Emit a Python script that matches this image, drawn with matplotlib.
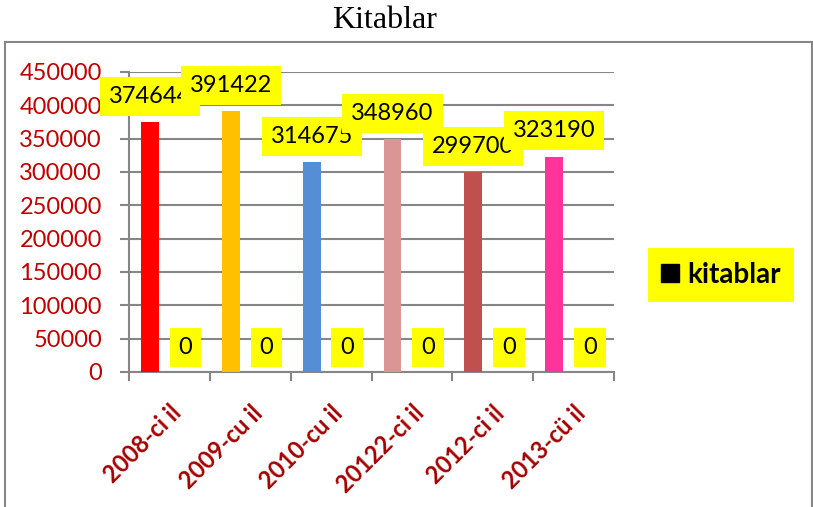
import matplotlib
matplotlib.use("Agg")
import matplotlib.pyplot as plt
from matplotlib.lines import Line2D
from matplotlib.patches import Rectangle
import numpy as np

# data
categories = ["2008-ci il", "2009-cu il", "2010-cu il", "20122-ci il", "2012-ci il", "2013-cü il"]
kitablar = [374644, 391422, 314675, 348960, 299700, 323190]
second = [0, 0, 0, 0, 0, 0]
bar_colors = ["#FF0000", "#FFC000", "#558ED5", "#D99694", "#C0504D", "#FF3399"]
yticks = np.arange(0, 450001, 50000)

plt.rcParams['font.family'] = ['Lato', 'DejaVu Sans']

fig = plt.figure(figsize=(8.13, 5.07), dpi=100)
ax = fig.add_axes([0.1587, 0.2663, 0.7552 - 0.1587, 0.858 - 0.2663])

x = np.arange(len(categories))
w = 0.22
ax.bar(x - 0.24, kitablar, width=w, color=bar_colors, zorder=3)
ax.bar(x + 0.2, second, width=w, color="#4F81BD", zorder=3)

# value labels (later ones drawn on top of earlier)
for i, v in enumerate(kitablar):
    ax.annotate(str(v), (x[i] - 0.24, v), xytext=(0, 11), textcoords="offset points",
                ha="center", va="bottom", fontsize=17, color="black", zorder=10 + i,
                bbox=dict(boxstyle="square,pad=0.38", fc="#FFFF00", ec="none"))
for i, v in enumerate(second):
    ax.annotate(str(v), (x[i] + 0.2, v), xytext=(0, 10), textcoords="offset points",
                ha="center", va="bottom", fontsize=17, color="black", zorder=20 + i,
                bbox=dict(boxstyle="square,pad=0.38", fc="#FFFF00", ec="none"))

ax.set_xlim(-0.5, len(categories) - 0.5)
ax.set_ylim(0, 450000)
ax.set_yticks(yticks)
ax.set_yticklabels([str(t) for t in yticks], color="#C00000", fontsize=17)
ax.yaxis.grid(True, color="#868686", linewidth=1.5, zorder=0)
ax.set_axisbelow(True)

# x ticks at group boundaries, labels at centres
ax.set_xticks(np.arange(-0.5, len(categories), 1.0))
ax.set_xticklabels([])
ax.set_xticks(x, minor=True)
ax.set_xticklabels(categories, minor=True, rotation=45, ha="right", va="top",
                   rotation_mode="anchor", color="#A50000", fontsize=17, fontweight="bold")
ax.tick_params(axis="x", which="minor", length=0, pad=21)
ax.tick_params(axis="x", which="major", length=6.5, color="#868686", width=1.5)
ax.tick_params(axis="y", length=6.5, color="#868686", width=1.5, pad=13)

for s in ["top", "right"]:
    ax.spines[s].set_visible(False)
for s in ["left", "bottom"]:
    ax.spines[s].set_color("#868686")
    ax.spines[s].set_linewidth(1.5)

handle = Line2D([], [], marker="s", color="black", linestyle="none", markersize=13)
leg = fig.legend([handle], ["kitablar"], loc="center", bbox_to_anchor=(721 / 813, 1 - 275 / 507),
                 frameon=True, fancybox=False, handlelength=0.6, handletextpad=0.3,
                 borderpad=0.5, prop=dict(size=20, weight="bold"))
leg.get_frame().set_facecolor("#FFFF00")
leg.get_frame().set_edgecolor("none")
leg.get_frame().set_alpha(1)

# chart frame
fig.patches.append(Rectangle((5 / 813, -0.05), 807 / 813, 1.05 - 42 / 507, transform=fig.transFigure,
                             fill=False, edgecolor="#868686", linewidth=1.5))

fig.text(385 / 813, 1 - 20 / 507, "Kitablar", ha="center", va="center",
         fontsize=23, family="Liberation Serif")

fig.savefig("out.png", dpi=100)
